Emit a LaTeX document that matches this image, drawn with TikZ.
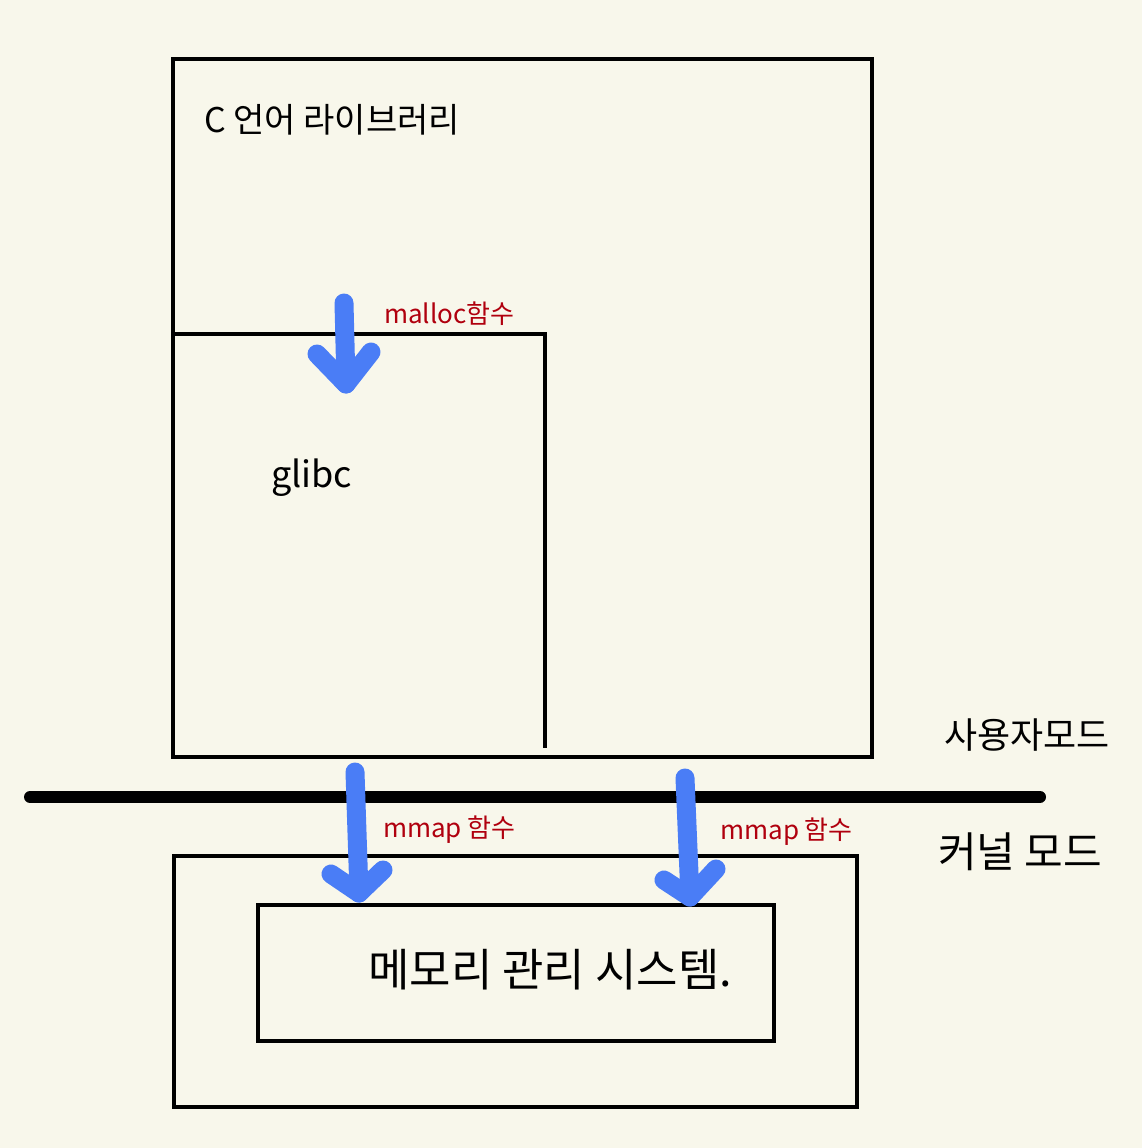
\documentclass[tikz,border=0pt]{standalone}
\usepackage{fontspec}
\setmainfont{Noto Sans CJK KR}
\begin{document}
\begin{tikzpicture}[x=1pt,y=-1pt,
  box/.style={draw=black,line width=3.5pt,fill=none,inner sep=0pt,outer sep=0pt},
  lbl/.style={inner sep=0pt,anchor=west,text=black},
  redlbl/.style={inner sep=0pt,anchor=west,text=redink,font=\fontsize{26}{28}\selectfont},
  bluearrow/.style={draw=blueink,line width=19pt,line cap=round,line join=round}]
\definecolor{bg}{HTML}{F8F7EB}
\definecolor{redink}{HTML}{B0000E}
\definecolor{blueink}{HTML}{4A7DF6}
\fill[bg] (0,0) rectangle (1142,1148);
\useasboundingbox (0,0) rectangle (1142,1148);
% boxes
\node[box,minimum width=699pt,minimum height=698pt,anchor=north west] (clib) at (173,59) {};
\node[box,minimum width=683pt,minimum height=251pt,anchor=north west] (kernel) at (174,856) {};
\node[box,minimum width=516pt,minimum height=136pt,anchor=north west] (mms) at (258,905) {};
% glibc partial box
\coordinate (gl1) at (173,334);
\coordinate (gl2) at (545,334);
\coordinate (gl3) at (545,748);
\draw[line width=3.5pt] (gl1) -- (gl2) -- (gl3);
% divider
\coordinate (divL) at (30,797);
\coordinate (divR) at (1040,797);
\draw[line width=12pt,line cap=round] (divL) -- (divR);
% texts
\node[lbl,font=\fontsize{34}{37}\selectfont] (tclib) at (204,120) {C 언어 라이브러리};
\node[lbl,font=\fontsize{36}{39}\selectfont] (tglibc) at (271,478) {glibc};
\node[lbl,font=\fontsize{36}{39}\selectfont] (tuser) at (944,735) {사용자모드};
\node[lbl,font=\fontsize{42}{45}\selectfont] (tkern) at (938,852) {커널 모드};
\node[lbl,font=\fontsize{45}{48}\selectfont] (tmms) at (368,970) {메모리 관리 시스템.};
\node[redlbl] (tmalloc) at (384,314) {malloc함수};
\node[redlbl] (tmmap1) at (383,830) {mmap 함수};
\node[redlbl] (tmmap2) at (720,832) {mmap 함수};
% blue arrows
\coordinate (a1s) at (344,303);
\coordinate (a1t) at (346,384);
\coordinate (a1l) at (317,354);
\coordinate (a1r) at (371,352);
\draw[bluearrow] (a1s) -- (a1t);
\draw[bluearrow] (a1l) -- (a1t) -- (a1r);
\coordinate (a2s) at (355,772);
\coordinate (a2t) at (359,893);
\coordinate (a2l) at (331,874);
\coordinate (a2r) at (383,870);
\draw[bluearrow] (a2s) -- (a2t);
\draw[bluearrow] (a2l) -- (a2t) -- (a2r);
\coordinate (a3s) at (685,778);
\coordinate (a3t) at (690,897);
\coordinate (a3l) at (664,880);
\coordinate (a3r) at (716,869);
\draw[bluearrow] (a3s) -- (a3t);
\draw[bluearrow] (a3l) -- (a3t) -- (a3r);
\end{tikzpicture}
\end{document}
